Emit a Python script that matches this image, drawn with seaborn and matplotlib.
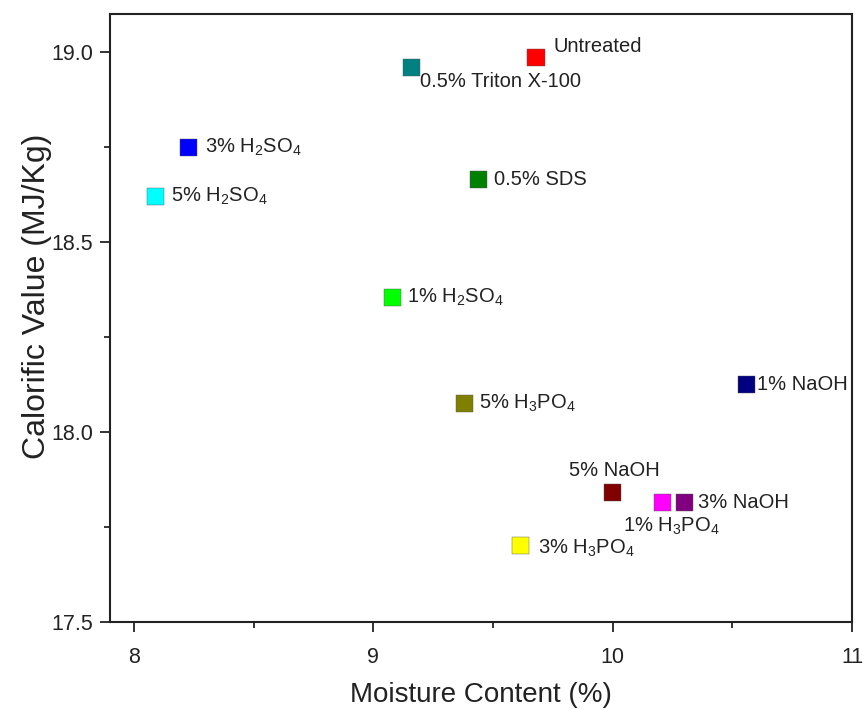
import matplotlib
matplotlib.use("Agg")
import matplotlib.pyplot as plt
import seaborn as sns
import pandas as pd

labels = ["Untreated", "0.5% Triton X-100", "3% H$_2$SO$_4$", "5% H$_2$SO$_4$",
          "0.5% SDS", "1% H$_2$SO$_4$", "1% NaOH", "5% H$_3$PO$_4$",
          "5% NaOH", "1% H$_3$PO$_4$", "3% NaOH", "3% H$_3$PO$_4$"]
moisture = [9.68, 9.16, 8.23, 8.09, 9.44, 9.08, 10.56, 9.38, 10.00, 10.21, 10.30, 9.615]
calorific = [18.985, 18.96, 18.75, 18.62, 18.665, 18.355, 18.125, 18.075, 17.84, 17.815, 17.815, 17.70]
colors = ["#FF0000", "#008080", "#0000FF", "#00FFFF", "#008000", "#00FF00",
          "#000080", "#808000", "#800000", "#FF00FF", "#800080", "#FFFF00"]
# label offsets in pixels (dx, dy) and alignment
offsets = [(17, 11, "left"), (8, -14, "left"), (16, 0, "left"),
           (16, 0, "left"), (15, 0, "left"), (15, 0, "left"),
           (10, 0, "left"), (15, 0, "left"), (2, 22, "center"),
           (8, -24, "center"), (14, 0, "left"), (18, -3, "left")]

sns.set_style("ticks")
plt.rcParams["font.family"] = ["Liberation Sans", "DejaVu Sans"]
plt.rcParams["mathtext.fontset"] = "custom"
plt.rcParams["mathtext.rm"] = "Liberation Sans"
plt.rcParams["mathtext.default"] = "regular"

df = pd.DataFrame({"label": labels, "moisture": moisture, "calorific": calorific})

fig = plt.figure(figsize=(8.65, 7.09), dpi=100)
ax = fig.add_axes([0.127, 0.123, 0.858, 0.857])
sns.scatterplot(data=df, x="moisture", y="calorific", hue="label",
                palette=dict(zip(labels, colors)), marker="s", s=150,
                edgecolor="#555555", linewidth=0.3, legend=False, ax=ax, zorder=3)

for lab, x, y, (dx, dy, ha) in zip(labels, moisture, calorific, offsets):
    ax.annotate(lab, (x, y), xytext=(dx, dy), textcoords="offset pixels",
                ha=ha, va="center", fontsize=14.5, color="#222222")

ax.set_xlim(7.9, 11.0)
ax.set_ylim(17.5, 19.1)
ax.set_xticks([8, 9, 10, 11])
ax.set_xticks([8.5, 9.5, 10.5], minor=True)
ax.set_yticks([17.5, 18.0, 18.5, 19.0])
ax.set_yticks([17.75, 18.25, 18.75], minor=True)
ax.set_yticklabels(["17.5", "18.0", "18.5", "19.0"])
ax.tick_params(which="major", direction="out", length=7, width=1.3, labelsize=15.5,
               colors="#222222", pad=5)
ax.tick_params(axis="x", which="major", pad=11)
ax.tick_params(which="minor", direction="out", length=4, width=1.3)
for sp in ax.spines.values():
    sp.set_visible(True)
    sp.set_linewidth(1.5)
    sp.set_color("#222222")
ax.set_xlabel("Moisture Content (%)", fontsize=20, labelpad=10, color="#222222")
ax.set_ylabel("Calorific Value (MJ/Kg)", fontsize=23, color="#222222")
ax.yaxis.set_label_coords(-0.078, 0.535)

fig.savefig("out.png", dpi=100)
